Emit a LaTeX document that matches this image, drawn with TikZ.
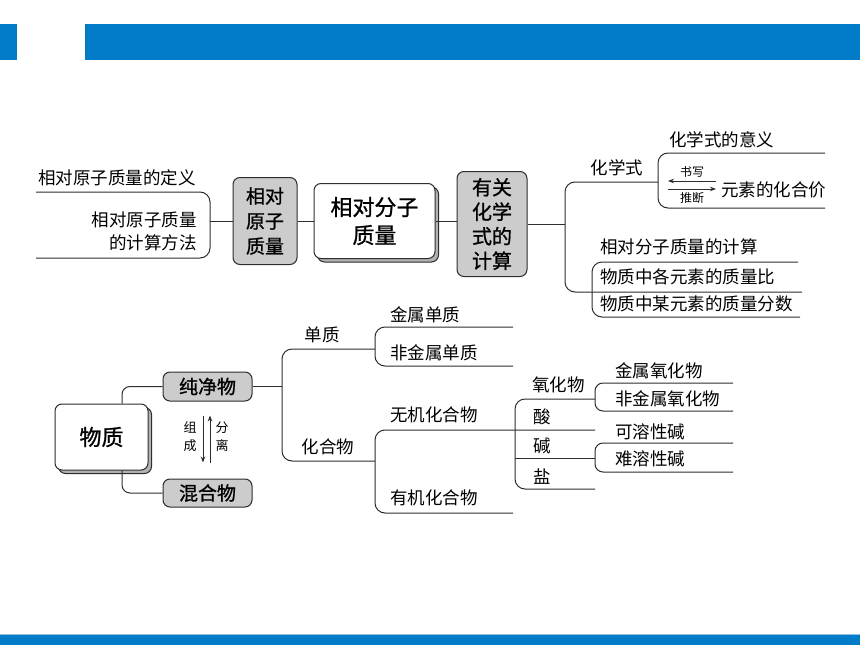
\documentclass[tikz,border=0pt]{standalone}
\usepackage{fontspec}
\setmainfont{Noto Sans CJK SC}
\newfontfamily\boxfont[FakeBold=1]{Noto Sans CJK SC}
\usepackage{xcolor}
\usepackage{tikz}
\usetikzlibrary{shapes,arrows,arrows.meta,positioning,calc,shadows}
\definecolor{pptblue}{RGB}{2,123,200}
\definecolor{topicgray}{RGB}{204,204,204}
\definecolor{inkgray}{RGB}{45,45,45}

\begin{document}
\begin{tikzpicture}[x=1pt, y=-1pt,
        topic/.style={rectangle, rounded corners=7pt, draw=inkgray, line width=1pt, fill=topicgray, align=center, inner sep=0pt, font=\boxfont\fontsize{19}{25}\selectfont},
        mainbox/.style={rectangle, rounded corners=7pt, draw=inkgray, line width=1pt, fill=white, align=center, inner sep=0pt, font=\boxfont\fontsize{22}{28}\selectfont, copy shadow={shadow xshift=3.5pt, shadow yshift=-3.5pt, fill=black!30, draw=inkgray}},
        leaf/.style={inner sep=0pt, anchor=west, font=\fontsize{17.5}{23}\selectfont},
        note/.style={inner sep=0pt, align=center, font=\fontsize{12}{17}\selectfont},
        branch/.style={draw=inkgray, line width=1pt, rounded corners=10pt},
        arrow/.style={-{Stealth[length=6pt,width=4.5pt]}, draw=inkgray, line width=1pt}
    ]
        % Page frame
        \useasboundingbox (0,0) rectangle (860,645);
        \fill[pptblue] (0,24) rectangle (17,60);
        \fill[pptblue] (85,24) rectangle (860,60);
        \fill[pptblue] (0,634) rectangle (860,645);
        \draw[pptblue!45, line width=1pt] (0,634) -- (860,634);

        % Relative atomic mass
        \node[topic, minimum width=64pt, minimum height=87pt] (ram) at (265,221) {相对\\原子\\质量};
        \node[leaf] (ramdef) at (38,178) {相对原子质量的定义};
        \node[leaf, anchor=east, align=right] (ramcalc) at (197,231) {相对原子质量\\的计算方法};
        \coordinate (ramfork) at (210,221);
        \draw[branch] (36,192) -- (210,192) -- (210,258) -- (36,258);
        \draw[branch] (ramfork) -- (ram.west);

        % Relative molecular mass
        \node[mainbox, minimum width=121pt, minimum height=75pt] (rmm) at (374.5,221) {相对分子\\质量};
        \draw[branch] (ram) -- (rmm);

        % Calculations with formulas
        \node[topic, minimum width=70pt, minimum height=105pt, font=\boxfont\fontsize{20}{24.5}\selectfont] (calc) at (492,224) {有关\\化学\\式的\\计算};
        \draw[branch] (rmm.east) -- (rmm.east -| calc.west);
        \coordinate (calcfork) at (565,224);
        \draw[branch] (calc) -- (calcfork);
        \draw[branch] (658,182) -- (565,182) -- (565,292) -- (802,292);

        % Chemical formula
        \node[leaf, anchor=center] (formula) at (617,168) {化学式};
        \node[leaf] (meaning) at (669,140) {化学式的意义};
        \node[leaf] (valence) at (721,190) {元素的化合价};
        \draw[branch] (825,153) -- (658,153) -- (658,208) -- (825,208);
        \draw[arrow] ([xshift=-5pt,yshift=9pt]valence.west) -- ++(-48,0);
        \draw[arrow] ([xshift=-53pt,yshift=1pt]valence.west) -- ([xshift=-5pt,yshift=1pt]valence.west);
        \node[note] (write) at (692,172) {书写};
        \node[note] (infer) at (692,198) {推断};

        % Mass calculations
        \node[leaf] (mrcalc) at (600,247) {相对分子质量的计算};
        \node[leaf] (ratio) at (600,277) {物质中各元素的质量比};
        \node[leaf] (fraction) at (600,304) {物质中某元素的质量分数};
        \draw[branch] (798,262) -- (592,262) -- (592,317) -- (800,317);

        % Matter
        \node[mainbox, minimum width=93pt, minimum height=66pt] (matter) at (101.5,437) {物质};
        \node[topic, minimum width=89pt, minimum height=29pt, font=\boxfont\fontsize{19}{22}\selectfont] (pure) at (207.5,386.5) {纯净物};
        \node[topic, minimum width=89pt, minimum height=28pt, font=\boxfont\fontsize{19}{22}\selectfont] (mix) at (207.5,493) {混合物};
        \draw[branch, rounded corners=8pt] ($(matter.north)+(20.5,0)$) |- (pure.west);
        \draw[branch, rounded corners=8pt] ($(matter.south)+(20.5,0)$) |- (mix.west);
        \draw[arrow] ([xshift=-4.5pt,yshift=-14pt]pure.south) -- ([xshift=-4.5pt,yshift=16pt]mix.north);
        \draw[arrow] ([xshift=2.5pt,yshift=16pt]mix.north) -- ([xshift=2.5pt,yshift=-14pt]pure.south);
        \node[note, font=\fontsize{13}{18}\selectfont] (compose) at (190,437) {组\\成};
        \node[note, font=\fontsize{13}{18}\selectfont] (separate) at (222,437) {分\\离};

        % Pure substances
        \coordinate (purefork) at (282,386.5);
        \draw[branch] (pure) -- (purefork);
        \draw[branch] (375,349) -- (282,349) -- (282,461) -- (375,461);
        \node[leaf, anchor=center] (element) at (322,335) {单质};
        \node[leaf, anchor=center] (compound) at (328,447) {化合物};

        % Elements
        \node[leaf] (metal) at (390,315) {金属单质};
        \node[leaf] (nonmetal) at (390,353) {非金属单质};
        \draw[branch] (513,327) -- (375,327) -- (375,366) -- (513,366);

        % Compounds
        \node[leaf] (inorganic) at (390,415) {无机化合物};
        \node[leaf] (organic) at (390,498) {有机化合物};
        \draw[branch] (595,430) -- (375,430) -- (375,513) -- (513,513);

        % Inorganic compounds
        \node[leaf] (oxide) at (532,385) {氧化物};
        \node[leaf] (acid) at (533,417) {酸};
        \node[leaf] (base) at (533,446) {碱};
        \node[leaf] (salt) at (533,477) {盐};
        \draw[branch] (595,399) -- (515,399) -- (515,489) -- (595,489);
        \draw[branch] (515,458) -- (595,458);

        % Oxides
        \node[leaf] (metaloxide) at (615,371) {金属氧化物};
        \node[leaf] (nonmetaloxide) at (615,399) {非金属氧化物};
        \draw[branch, rounded corners=8pt] (733,383) -- (595,383) -- (595,411) -- (733,411);

        % Bases
        \node[leaf] (soluble) at (615,432) {可溶性碱};
        \node[leaf] (insoluble) at (615,459) {难溶性碱};
        \draw[branch, rounded corners=8pt] (733,443) -- (595,443) -- (595,472) -- (733,472);
    \end{tikzpicture}
\end{document}
